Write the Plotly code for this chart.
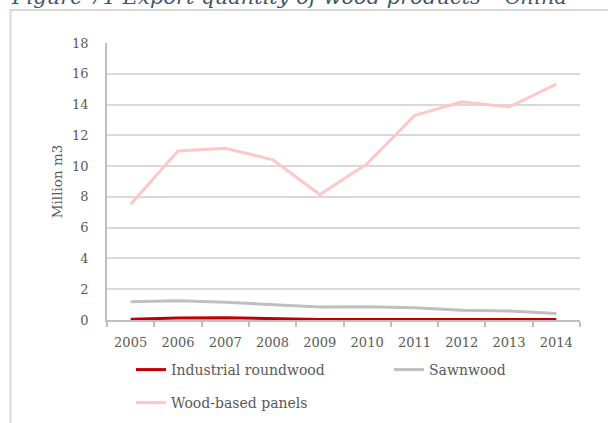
import plotly.graph_objects as go

# Export quantity of wood products, China (million m3)
years = ["2005", "2006", "2007", "2008", "2009", "2010", "2011", "2012", "2013", "2014"]
industrial_roundwood = [0.05, 0.13, 0.15, 0.10, 0.03, 0.03, 0.03, 0.03, 0.04, 0.04]
sawnwood = [1.19, 1.25, 1.15, 0.99, 0.84, 0.86, 0.80, 0.63, 0.58, 0.43]
wood_based_panels = [7.52, 10.98, 11.16, 10.42, 8.15, 10.16, 13.29, 14.18, 13.84, 15.33]
y_ticks = [0, 2, 4, 6, 8, 10, 12, 14, 16, 18]

FONT = "DejaVu Serif"
TXT = "#595959"
GRID = "#D9D9D9"
AXIS = "#BFBFBF"

W, H = 608, 423
L, R, T, B = 107, 28, 43, 103
pw, ph = W - L - R, H - T - B


def px_x(px):
    return (px - L) / pw


def px_y(py):
    return (H - B - py) / ph


series = [
    ("Industrial roundwood", industrial_roundwood, "#C00000", "legend"),
    ("Sawnwood", sawnwood, "#BFBFBF", "legend2"),
    ("Wood-based panels", wood_based_panels, "#FFC7C7", "legend3"),
]

fig = go.Figure()
for name, vals, color, lg in series:
    fig.add_trace(go.Scatter(
        x=years, y=vals, name=name, mode="lines",
        line=dict(color=color, width=3),
        legend=lg, showlegend=True,
    ))

legend_style = dict(
    orientation="h", bgcolor="rgba(0,0,0,0)", borderwidth=0,
    font=dict(family=FONT, size=14, color=TXT),
    xanchor="left", yanchor="middle", xref="paper", yref="paper",
)

fig.update_layout(
    width=W, height=H,
    margin=dict(l=L, r=R, t=T, b=B, autoexpand=False),
    paper_bgcolor="white", plot_bgcolor="white",
    font=dict(family=FONT, size=13, color=TXT),
    showlegend=True,
    legend=dict(x=px_x(131), y=px_y(370), **legend_style),
    legend2=dict(x=px_x(389), y=px_y(370), **legend_style),
    legend3=dict(x=px_x(131), y=px_y(403), **legend_style),
    xaxis=dict(
        type="category", range=[-0.5, 9.5], showgrid=False,
        showline=True, linecolor=AXIS, linewidth=1.5,
        ticks="outside", tickson="boundaries", ticklen=5,
        tickcolor=AXIS, tickwidth=1.5,
        tickfont=dict(family=FONT, size=13, color=TXT),
        ticklabelstandoff=10,
    ),
    yaxis=dict(
        range=[0, 18], tickvals=y_ticks,
        showgrid=True, gridcolor=GRID, gridwidth=1.5,
        showline=True, linecolor=AXIS, linewidth=1.5,
        ticks="", zeroline=False,
        tickfont=dict(family=FONT, size=13, color=TXT),
        ticklabelstandoff=14,
        title=dict(text="Million m3", font=dict(family=FONT, size=13.5, color=TXT), standoff=6),
    ),
    shapes=[
        dict(type="rect", xref="paper", yref="paper",
             x0=px_x(10.5), x1=px_x(700), y0=px_y(600), y1=px_y(10),
             line=dict(color="#D9D9D9", width=2), layer="below"),
    ],
    annotations=[
        dict(text="<i>Figure 71 Export quantity of wood products – China</i>",
             xref="paper", yref="paper", x=px_x(9), y=px_y(11),
             xanchor="left", yanchor="bottom", showarrow=False,
             font=dict(family="DejaVu Serif", size=21, color="#44546A")),
    ],
)

fig.write_html("out.html")
